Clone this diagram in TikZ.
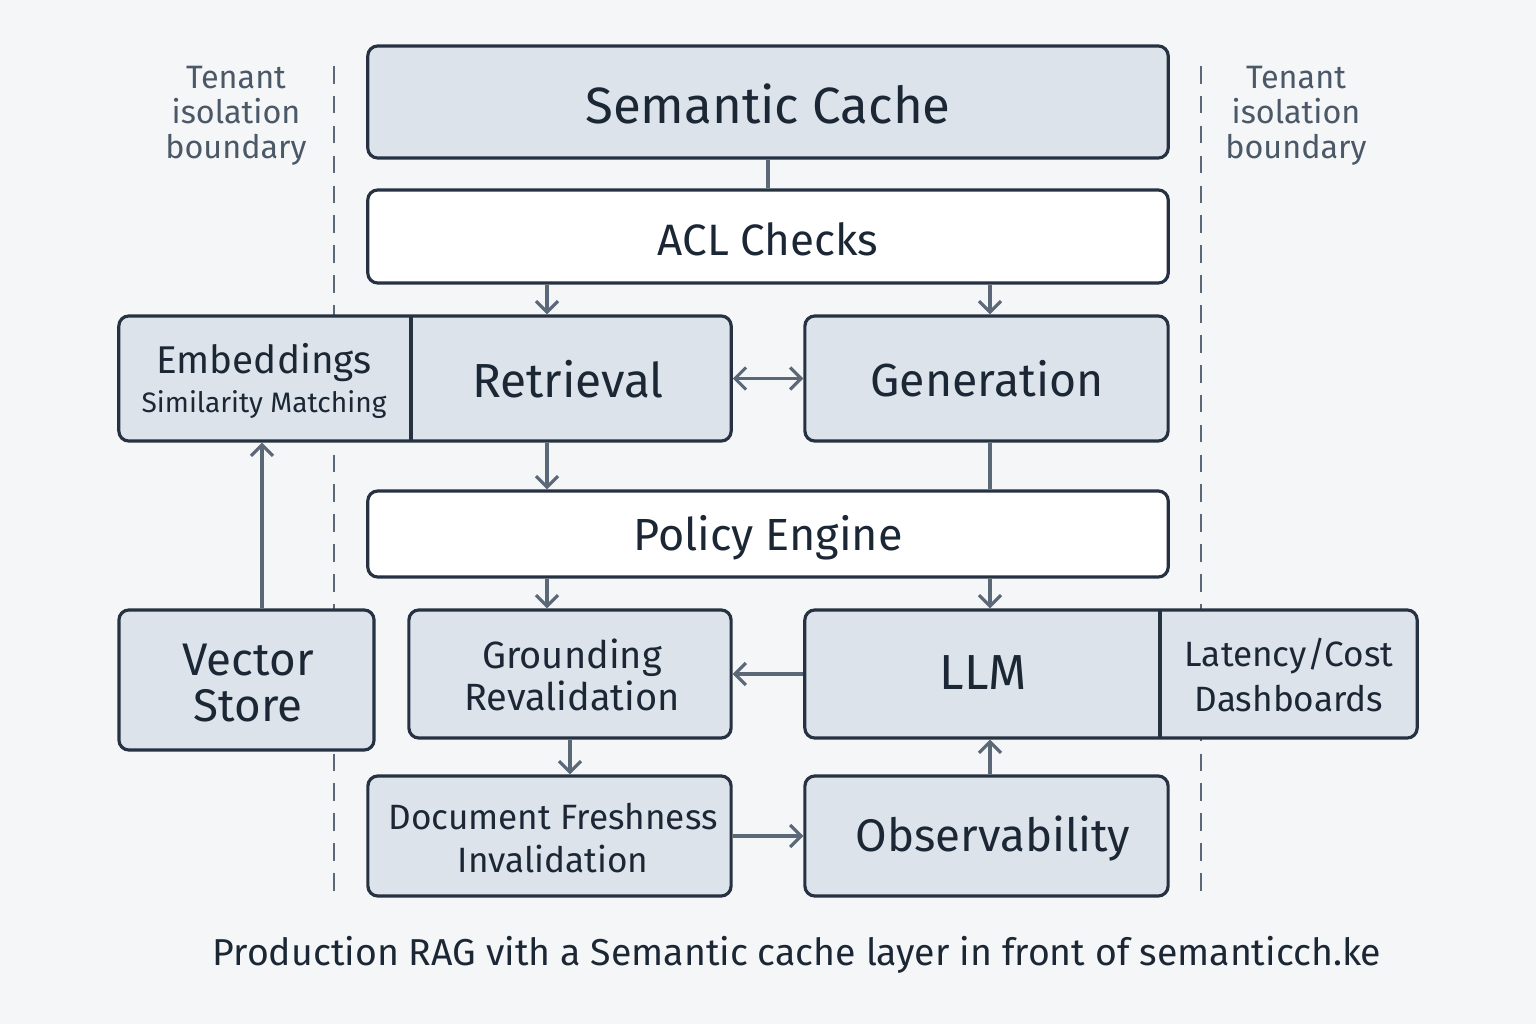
\documentclass[tikz,border=0pt]{standalone}
\usepackage{fontspec}
\setmainfont{Fira Sans}
\usetikzlibrary{arrows.meta,calc}
\definecolor{bgc}{HTML}{F5F6F7}
\definecolor{boxfill}{HTML}{DCE3EB}
\definecolor{boxline}{HTML}{263241}
\definecolor{ink}{HTML}{1C2736}
\definecolor{wire}{HTML}{5B6877}
\definecolor{note}{HTML}{4A5868}
\tikzset{
  blk/.style={draw=boxline,line width=.9pt,rounded corners=1mm,fill=boxfill,inner sep=0pt},
  wblk/.style={blk,fill=white},
  lbl/.style={text=ink,align=center,inner sep=1pt},
  barb/.tip={Straight Barb[length=1.1mm,width=2.2mm]},
  wire/.style={draw=wire,line width=.9pt},
  arr/.style={wire,-barb},
  darr/.style={wire,barb-barb},
  bound/.style={draw=wire,line width=.75pt,dash pattern=on 5pt off 3.5pt}
}
\newcommand{\fs}[2]{\fontsize{#1}{#2}\selectfont}
\begin{document}
\begin{tikzpicture}[x=.01cm,y=-.01cm]
    \fill[bgc] (0,0) rectangle (1536,1024);
    \useasboundingbox (0,0) rectangle (1536,1024);

    % tenant boundaries
    \foreach \bx in {334,1201}
      \draw[bound] (\bx,66) -- (\bx,896);
    \node[lbl,text=note,font=\fs{9.2}{10}] (tenantL) at (236,116) {Tenant\\isolation\\boundary};
    \node[lbl,text=note,font=\fs{9.2}{10}] (tenantR) at (1296,116) {Tenant\\isolation\\boundary};

    % columns used by the connectors
    \coordinate (colL) at (547,0);
    \coordinate (colR) at (990,0);
    \coordinate (colV) at (262,0);

    % top layers
    \node[blk,minimum width=8cm,minimum height=1.12cm] (cache) at (768,102) {};
    \node[lbl,font=\fs{14.5}{17}] at (768,104) {Semantic Cache};
    \node[wblk,minimum width=8cm,minimum height=.93cm] (acl) at (768,236.5) {};
    \node[lbl,font=\fs{12.5}{15}] at (768,239) {ACL Checks};

    % retrieval row
    \node[blk,minimum width=6.12cm,minimum height=1.25cm] (retgroup) at (425,378.5) {};
    \draw[draw=boxline,line width=.9pt] (411,316) -- (411,441);
    \node[lbl,font=\fs{11}{12}] (emb) at (264,381) {Embeddings\\[-1pt]\fs{8}{10}Similarity Matching};
    \node[lbl,font=\fs{13.6}{16}] (ret) at (568,379) {Retrieval};
    \node[blk,minimum width=3.63cm,minimum height=1.25cm] (gen) at (986.5,378.5) {};
    \node[lbl,font=\fs{13.2}{16}] at (987,379) {Generation};

    % policy
    \node[wblk,minimum width=8cm,minimum height=.86cm] (policy) at (768,534) {};
    \node[lbl,font=\fs{12.8}{15}] at (768,538) {Policy Engine};

    % lower rows
    \node[blk,minimum width=2.55cm,minimum height=1.40cm] (vec) at (246.5,680) {};
    \node[lbl,font=\fs{13}{13}] at (248,683) {Vector\\Store};
    \node[blk,minimum width=3.22cm,minimum height=1.28cm] (ground) at (570,674) {};
    \node[lbl,font=\fs{10.8}{12}] at (572,675) {Grounding\\Revalidation};
    \node[blk,minimum width=6.12cm,minimum height=1.28cm] (llmgroup) at (1111,674) {};
    \draw[draw=boxline,line width=.9pt] (1160,610) -- (1160,738);
    \node[lbl,font=\fs{14}{16}] (llm) at (983,673) {LLM};
    \node[lbl,font=\fs{10}{12.6}] (dash) at (1289,675) {Latency/Cost\\Dashboards};
    \node[blk,minimum width=3.63cm,minimum height=1.20cm] (fresh) at (549.5,836) {};
    \node[lbl,font=\fs{10}{12}] at (553,838) {Document Freshness\\Invalidation};
    \node[blk,minimum width=3.63cm,minimum height=1.20cm] (obs) at (986.5,836) {};
    \node[lbl,font=\fs{13}{15}] at (993,839) {Observability};

    % connectors
    \draw[wire] (cache.south) -- (acl.north);
    \draw[arr] (acl.south -| colL) -- (retgroup.north -| colL);
    \draw[arr] (acl.south -| colR) -- (gen.north -| colR);
    \draw[darr] (retgroup.east) -- (gen.west);
    \draw[arr] (retgroup.south -| colL) -- (policy.north -| colL);
    \draw[wire] (gen.south -| colR) -- (policy.north -| colR);
    \draw[arr] (policy.south -| colL) -- (ground.north -| colL);
    \draw[arr] (policy.south -| colR) -- (llmgroup.north -| colR);
    \draw[arr] (vec.north -| colV) -- (retgroup.south -| colV);
    \draw[arr] (llmgroup.west) -- (ground.east);
    \draw[arr] (ground.south) -- (fresh.north -| ground.south);
    \draw[arr] (fresh.east) -- (obs.west);
    \draw[arr] (obs.north -| colR) -- (llmgroup.south -| colR);

    % caption
    \node[lbl,font=\fs{10.65}{12}] (caption) at (797,955) {Production RAG vith a Semantic cache layer in front of semanticch.ke};
  \end{tikzpicture}
\end{document}
